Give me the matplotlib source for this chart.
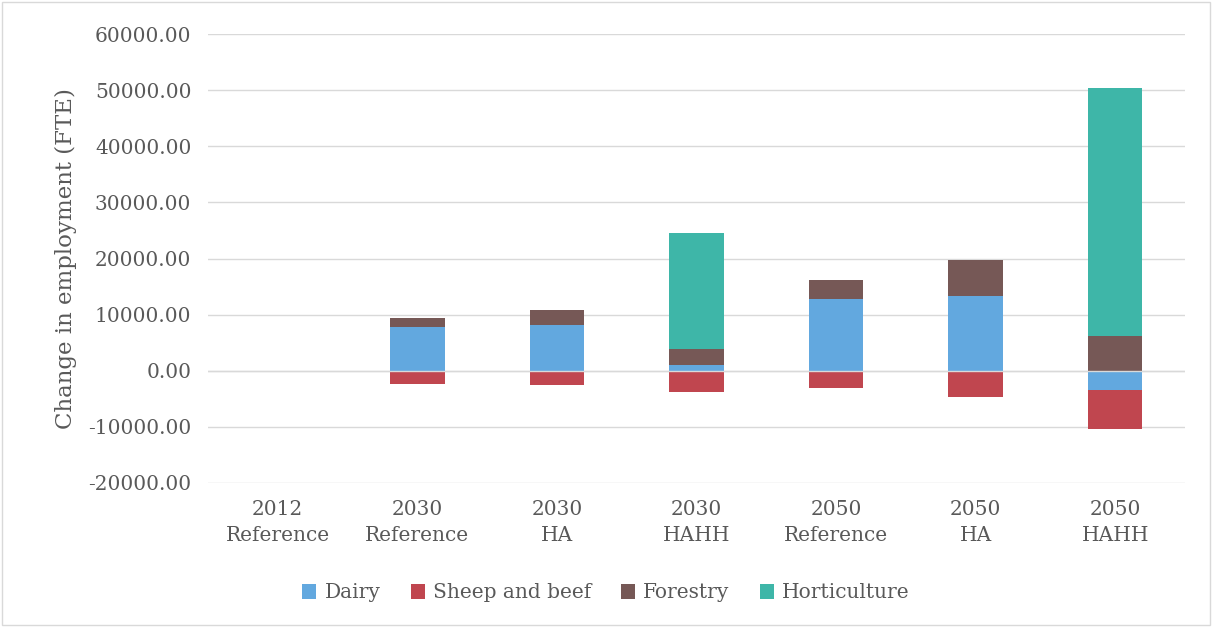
import matplotlib.pyplot as plt
import numpy as np
from matplotlib.patches import Rectangle

categories = ["2012\nReference", "2030\nReference", "2030\nHA", "2030\nHAHH",
              "2050\nReference", "2050\nHA", "2050\nHAHH"]
dairy = [0, 7800, 8200, 1100, 12800, 13300, -3500]
sheep_beef = [0, -2300, -2500, -3750, -3000, -4600, -6800]
forestry = [0, 1650, 2700, 2800, 3400, 6500, 6200]
horticulture = [0, 0, 0, 20700, 0, 0, 44100]

series = [("Dairy", dairy, "#62A8DF"), ("Sheep and beef", sheep_beef, "#C0464F"),
          ("Forestry", forestry, "#765856"), ("Horticulture", horticulture, "#3EB6A8")]

plt.rcParams["font.family"] = ["DejaVu Serif"]
fig = plt.figure(figsize=(12.12, 6.27), dpi=100)
ax = fig.add_axes([208 / 1212, 1 - 483 / 627, (1185 - 208) / 1212, (483 - 34) / 627])

x = np.arange(len(categories))
pos = np.zeros(len(x))
neg = np.zeros(len(x))
for name, vals, color in series:
    v = np.array(vals, dtype=float)
    bottom = np.where(v >= 0, pos, neg)
    ax.bar(x, v, 0.39, bottom=bottom, color=color, label=name, zorder=3)
    pos = np.where(v >= 0, pos + v, pos)
    neg = np.where(v < 0, neg + v, neg)

ax.set_ylim(-20000, 60000)
ax.set_yticks(np.arange(-20000, 60001, 10000))
ax.yaxis.set_major_formatter(lambda v, p: f"{v:.2f}")
ax.set_xlim(-0.5, len(x) - 0.5)
ax.set_xticks(x)
ax.set_xticklabels(categories, linespacing=1.5)
ax.grid(axis="y", color="#D9D9D9", linewidth=1, zorder=0)
ax.axhline(0, color="#D9D9D9", linewidth=1, zorder=4)
for s in ax.spines.values():
    s.set_visible(False)
ax.tick_params(length=0, labelsize=14.5, colors="#595959", pad=12)
ax.set_ylabel("Change in employment (FTE)", fontsize=16.5, color="#595959", labelpad=8)
fig.legend(loc="center", bbox_to_anchor=(0.5, 1 - 593 / 627), ncol=4, frameon=False,
           fontsize=14.5, labelcolor="#595959", handlelength=0.7, handleheight=0.7,
           columnspacing=1.5, handletextpad=0.4)
fig.patches.append(Rectangle((0.002, 0.003), 0.996, 0.994, transform=fig.transFigure,
                             fill=False, edgecolor="#D9D9D9", linewidth=1))
fig.savefig("out.png", dpi=100)
